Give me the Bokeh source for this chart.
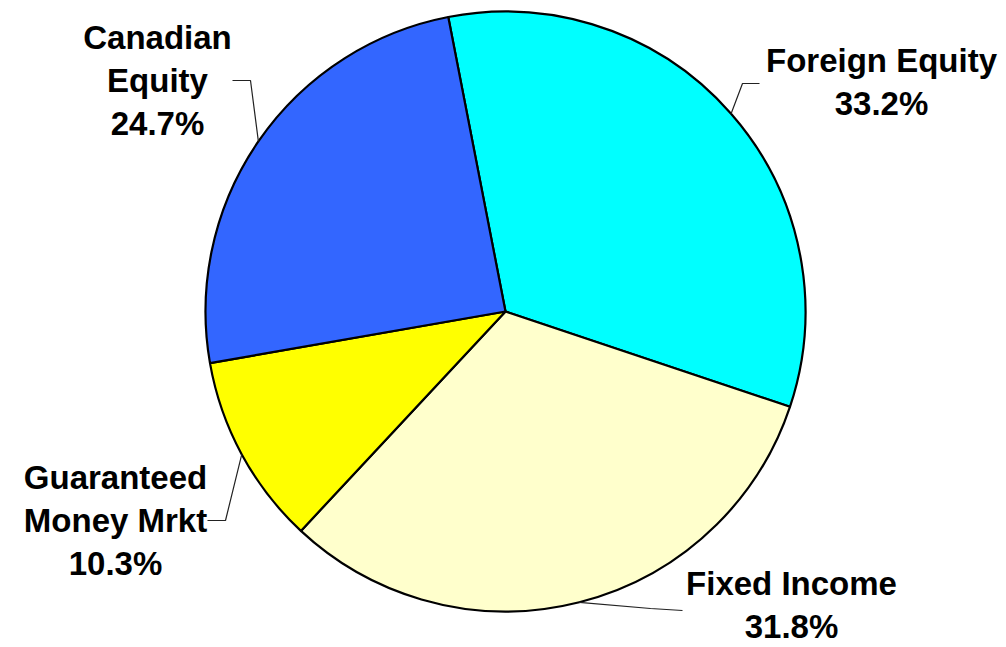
import math
from bokeh.plotting import figure
from bokeh.models import Range1d, ColumnDataSource
from bokeh.core.properties import value
from bokeh.embed import file_html
from bokeh.resources import INLINE

# ---- data ----
categories = ["Foreign Equity", "Fixed Income", "Guaranteed Money Mrkt", "Canadian Equity"]
label_lines = [["Foreign Equity"], ["Fixed Income"], ["Guaranteed", "Money Mrkt"], ["Canadian", "Equity"]]
percents = [33.2, 31.8, 10.3, 24.7]
colors = ["#00FFFF", "#FFFFCC", "#FFFF00", "#3366FF"]

# ---- layout (pixel coords of screenshot, y down) ----
W, H = 1006, 647
CX, CY, R = 505, 311, 300
START_DEG = 101.0
# label centre x and first baseline y, elbow and end points of leader lines
label_pos = [(881, 60), (791, 583), (115, 477), (157, 37)]
elbow_pts = [(742, 83), (650, 608), (225, 520), (250, 80)]
end_pts = [(759, 83), (682, 610), (207, 520), (232, 80)]
LINE_STEP = 43

def Y(py):
    return H - py

p = figure(width=W, height=H, output_backend="svg", toolbar_location=None,
           x_range=Range1d(0, W), y_range=Range1d(0, H),
           min_border=0)
p.axis.visible = False
p.grid.visible = False
p.outline_line_color = None
p.background_fill_color = "white"

total = sum(percents)
starts, ends, mids = [], [], []
a = START_DEG
for v in percents:
    span = v / total * 360.0
    starts.append(math.radians(a - span))
    ends.append(math.radians(a))
    mids.append(math.radians(a - span / 2))
    a -= span

src = ColumnDataSource(dict(x=[CX] * 4, y=[Y(CY)] * 4, s=starts, e=ends, c=colors))
p.wedge(x="x", y="y", radius=R, start_angle="s", end_angle="e", fill_color="c",
        line_color="black", line_width=2.2, source=src)

# leader lines
xs, ys = [], []
for m, el, en in zip(mids, elbow_pts, end_pts):
    ex = CX + R * math.cos(m)
    ey = Y(CY) + R * math.sin(m)
    xs.append([ex, el[0], en[0]])
    ys.append([ey, Y(el[1]), Y(en[1])])
p.multi_line(xs=xs, ys=ys, line_color="#222222", line_width=1.2)

# labels
tx, ty, tt = [], [], []
for lines, v, (lx, ly) in zip(label_lines, percents, label_pos):
    all_lines = lines + [f"{v:.1f}%"]
    for i, t in enumerate(all_lines):
        tx.append(lx)
        ty.append(Y(ly + i * LINE_STEP))
        tt.append(t)
p.text(x=tx, y=ty, text=tt, text_font=value("Liberation Sans"), text_font_style="bold",
       text_font_size="33px", text_align="center", text_baseline="alphabetic",
       text_color="black")

open("out.html", "w").write(file_html(p, INLINE))
